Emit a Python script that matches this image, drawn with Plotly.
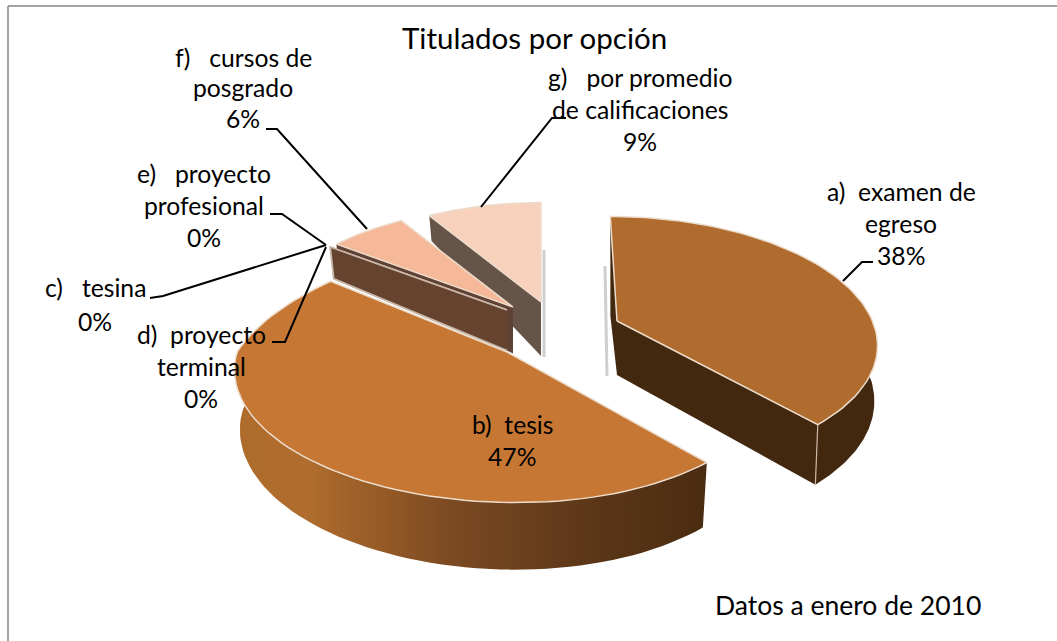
import numpy as np
import plotly.graph_objects as go

categories = ["a) examen de egreso", "b) tesis", "c) tesina", "d) proyecto terminal",
              "e) proyecto profesional", "f) cursos de posgrado", "g) por promedio de calificaciones"]
values = [38.4, 46.8, 0.0, 0.0, 0.0, 6.0, 8.8]
title_text = "Titulados por opción"
note_text = "Datos a enero de 2010"

# Exploded-slice geometry (style only)
apex_x = [617, 507, 507, 507, 507, 513, 541]
apex_y = [321, 352, 310, 310, 310, 307, 302]
scale = [.975, 1, .92, .92, .92, .92, .92]
x_scale = [1.01, 1.03, 1, 1, 1, 1, 1]
x_far = [0, .16, 0, 0, 0, 0, 0]
turn = [0, 2, 0, 0, 0, 0, 0]
shear = [-8, -8, 0, 0, 0, 0, 0]
tilt = [.012, .02, .02, .02, .02, .02, .02]
depth_k = [1, 1.08, .75, .75, .75, .86, 1]
far_k = [-.87, .68, .4, .4, .4, .68, .68]
top_col = ["#b06c2e", "#c67733", "#c67733", "#c67733", "#c67733", "#f5b999", "#f8d1bd"]
wall_col = ["#432810", "#4a2c12", "#66432f", "#66432f", "#66432f", "#5f4234", "#675448"]
RX, RY, K, D = 262, 125, .17, 54
EDGE = "#ecdccb"


def project(i, th, r=1.0):
    th = np.radians(th + turn[i])
    u, v = np.sin(th) * r * scale[i], np.cos(th) * r * scale[i]
    s = 1 / (1 + K * v)
    sx = np.where(u < 0, x_scale[i] - x_far[i] * np.maximum(v, 0), 1.0)
    x = apex_x[i] + (RX * sx * u + shear[i] * v) * s
    y = apex_y[i] - RY * v * s
    d = D * depth_k[i] * np.where(v > 0, 1 - far_k[i] * v, 1 - .15 * v)
    bx = x - tilt[i] * (x - apex_x[i])
    return x, y, d, bx


bounds = np.concatenate([[0], np.cumsum(values)]) * 3.6
fig = go.Figure()


def poly(x, y, fill, line=None, width=0, grad=None):
    kw = dict(x=list(x), y=list(y), mode="lines", fill="toself", hoverinfo="skip", showlegend=False,
              line=dict(color=line or "rgba(0,0,0,0)", width=width))
    if grad:
        kw["fillgradient"] = dict(type="horizontal", colorscale=grad)
    else:
        kw["fillcolor"] = fill
    fig.add_trace(go.Scatter(**kw))


def radial_wall(i, th, color, line=None, width=1):
    x, y, d, bx = project(i, th)
    xs = [apex_x[i], x, bx, apex_x[i]]
    ys = [apex_y[i], y, y + d, apex_y[i] + D * depth_k[i]]
    poly(xs, ys, color, line, width if line else 0)


def arc_wall(i, t0, t1, color, grad=None):
    th = np.linspace(t0, t1, 80)
    x, y, d, bx = project(i, th)
    poly(np.r_[x, bx[::-1]], np.r_[y, (y + d)[::-1]], color, grad=grad)


def top_face(i):
    t0, t1 = bounds[i], bounds[i + 1]
    th = np.linspace(t0, t1, 80)
    x, y, _, _ = project(i, th)
    poly(np.r_[apex_x[i], x, apex_x[i]], np.r_[apex_y[i], y, apex_y[i]], top_col[i], EDGE, 1.5)


def corner(i, th):
    x, y, d, bx = project(i, th)
    fig.add_trace(go.Scatter(x=[x, bx], y=[y, y + d], mode="lines", hoverinfo="skip", showlegend=False,
                             line=dict(color="#c9b8a6", width=1.2)))


# soft shadows beside the far cut walls
for xs, ys in (([544, 544], [250, 357]), ([605, 607], [266, 376])):
    fig.add_trace(go.Scatter(x=xs, y=ys, mode="lines", hoverinfo="skip", showlegend=False,
                             line=dict(color="#cfcfcf", width=3)))

# g
radial_wall(6, bounds[6], wall_col[6])
top_face(6)
# f
radial_wall(5, bounds[5], wall_col[5])
top_face(5)
# zero-size slices: only their cut wall shows
for i in (4, 3, 2):
    radial_wall(i, bounds[i], wall_col[i], line="#c9b8aa", width=1.6)
# a
radial_wall(0, bounds[0], wall_col[0])
radial_wall(0, bounds[1], wall_col[0])
arc_wall(0, 85, bounds[1], wall_col[0])
corner(0, bounds[1])
top_face(0)
# b
arc_wall(1, bounds[1], bounds[2],
         wall_col[1],
         grad=[[0, "#ad6b2c"], [.15, "#b06d2d"], [.45, "#7d4a22"], [.75, "#5c3718"], [1, "#4a2c12"]])
top_face(1)

# leader lines
leaders = [
    ([266, 277, 367], [129, 129, 229]),
    ([566, 552, 481], [118, 118, 207]),
    ([873, 862, 843], [262, 262, 281]),
    ([270, 282, 326], [214, 214, 245]),
    ([150, 163, 326], [298, 296, 245]),
    ([272, 285, 326], [342, 342, 247]),
]
for lx, ly in leaders:
    fig.add_trace(go.Scatter(x=lx, y=ly, mode="lines", line=dict(color="black", width=2),
                             hoverinfo="skip", showlegend=False))

pct = [f"{round(v)}%" for v in values]
labels = [
    (901, [191, 223, 255], ["a)  examen de", "egreso", pct[0]]),
    (512, [424, 456], ["b)  tesis", pct[1]]),
    (95, [287, 321], ["c)   tesina", pct[2]]),
    (201, [334, 366, 398], ["d)  proyecto", "terminal", pct[3]]),
    (204, [173, 205, 237], ["e)   proyecto", "profesional", pct[4]]),
    (243, [57, 87, 118], ["f)   cursos de", "posgrado", pct[5]]),
    (640, [77, 109, 141], ["g)   por promedio", "de calificaciones", pct[6]]),
]
ann = []
for cx, ys, lines in labels:
    for yy, t in zip(ys, lines):
        ann.append(dict(x=cx, y=yy, text=t, showarrow=False, xanchor="center", yanchor="middle",
                        font=dict(family="Lato", size=24.7, color="black")))
ann.append(dict(x=534, y=37, text=title_text, showarrow=False, font=dict(family="Lato", size=29.5, color="black")))
ann.append(dict(x=848, y=605, text=note_text, showarrow=False, font=dict(family="Lato", size=26.5, color="black")))

fig.update_layout(
    width=1057, height=641, margin=dict(l=0, r=0, t=0, b=0),
    paper_bgcolor="white", plot_bgcolor="white", annotations=ann, showlegend=False,
    xaxis=dict(range=[0, 1057], visible=False, fixedrange=True),
    yaxis=dict(range=[641, 0], visible=False, fixedrange=True),
    shapes=[
        dict(type="line", x0=8, x1=8, y0=6, y1=641, line=dict(color="#868686", width=1.5)),
        dict(type="line", x0=8, x1=1057, y0=6, y1=6, line=dict(color="#868686", width=1.5)),
    ],
)
fig.write_html("out.html", post_script="document.body.style.margin='0';document.body.style.overflow='hidden';",
               config={"displayModeBar": False})
